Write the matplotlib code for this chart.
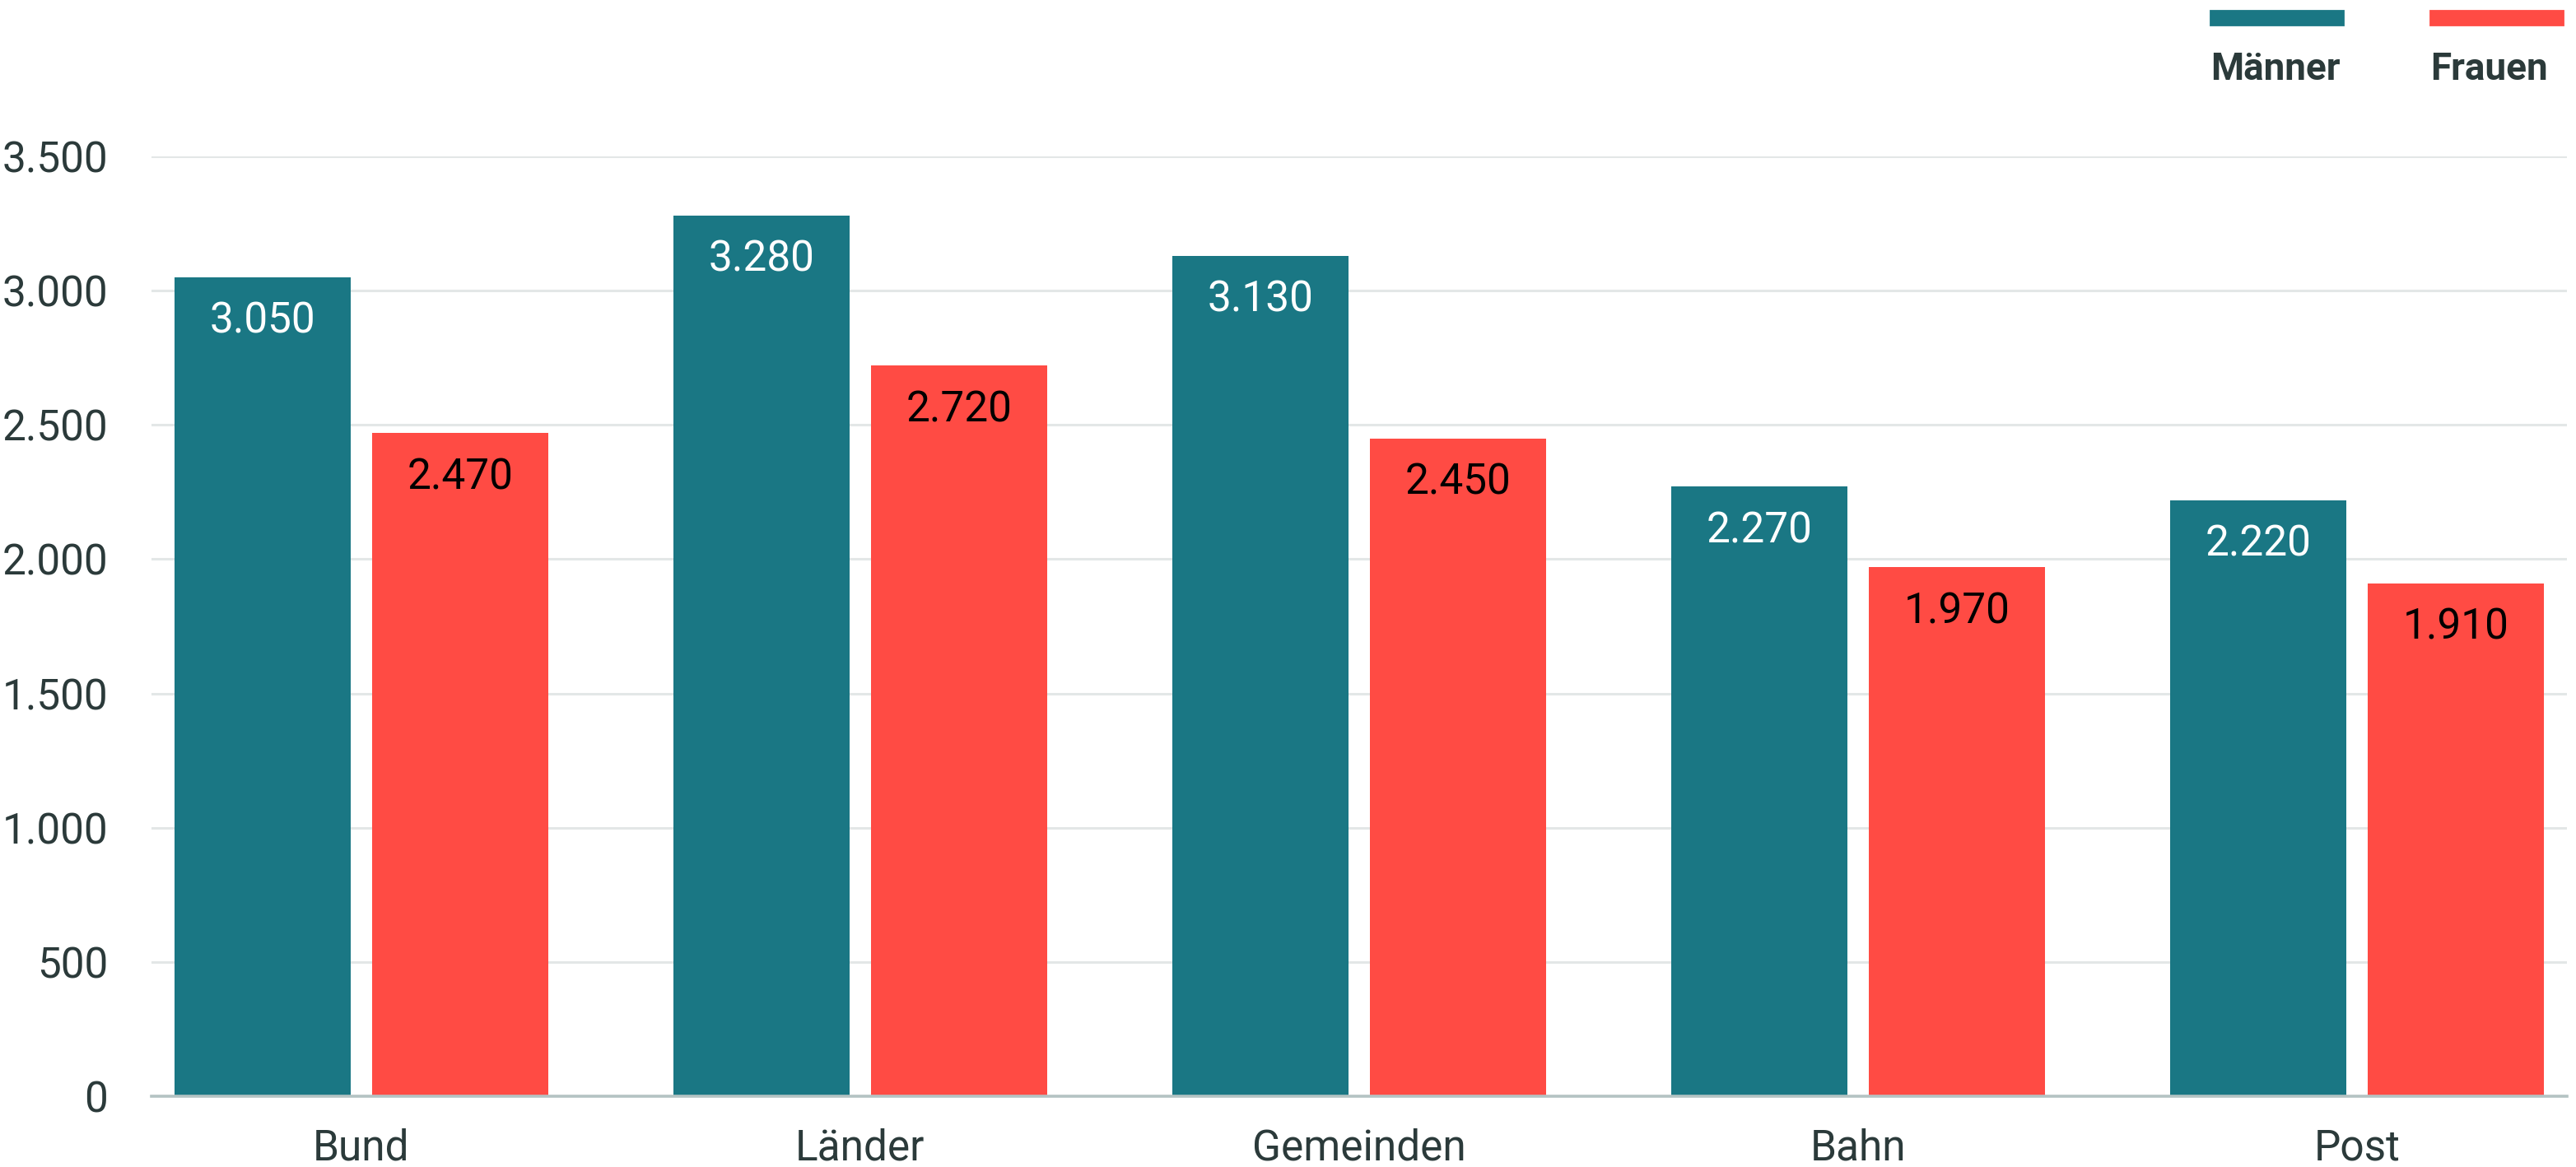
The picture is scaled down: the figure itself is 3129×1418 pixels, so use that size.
import numpy as np
import matplotlib
matplotlib.use("Agg")
from matplotlib import pyplot as plt
from matplotlib.patches import Rectangle

categories = ["Bund", "Länder", "Gemeinden", "Bahn", "Post"]
maenner = [3050, 3280, 3130, 2270, 2220]
frauen = [2470, 2720, 2450, 1970, 1910]
yticks = [0, 500, 1000, 1500, 2000, 2500, 3000, 3500]

TEAL = "#1A7784"
RED = "#FF4B44"
TEXT = "#2B3A3A"

plt.rcParams['font.family'] = ['Roboto', 'DejaVu Sans']


def fmt(v):
    return f"{v:,}".replace(",", ".")


def main():
    fig = plt.figure(figsize=(3129 / 200, 1418 / 200), dpi=200)
    ax = fig.add_axes([0.0588, 0.0607, 0.9377, 0.8053])

    x = np.arange(len(categories))
    w = 0.353
    off = 0.198
    b1 = ax.bar(x - off, maenner, w, color=TEAL, zorder=3)
    b2 = ax.bar(x + off, frauen, w, color=RED, zorder=3)

    # value labels inside the bars, near the top
    for bars, vals, col in [(b1, maenner, "white"), (b2, frauen, "black")]:
        for r, v in zip(bars, vals):
            ax.annotate(fmt(v), (r.get_x() + r.get_width() / 2, v),
                        xytext=(0, -19.5), textcoords="offset points",
                        ha="center", va="center", fontsize=18.5, color=col,
                        zorder=4)

    ax.set_xlim(-0.42, 4.42)
    ax.set_ylim(0, 3500)
    ax.set_yticks(yticks)
    ax.set_yticklabels([fmt(v) for v in yticks])
    ax.set_xticks(x)
    ax.set_xticklabels(categories)
    ax.tick_params(axis="y", length=0, pad=19, labelsize=18.5, labelcolor=TEXT)
    ax.tick_params(axis="x", length=0, pad=14, labelsize=18.5, labelcolor=TEXT)

    ax.grid(axis="y", color="#E3E7E7", linewidth=1.1, zorder=0)
    ax.set_axisbelow(True)
    for s in ["top", "right", "left"]:
        ax.spines[s].set_visible(False)
    ax.spines["bottom"].set_color("#B4C3C3")
    ax.spines["bottom"].set_linewidth(1.3)
    ax.spines["bottom"].set_zorder(5)

    # legend: colour bar above bold label
    W, H = 3129, 1418
    for x0, col, lab in [(2685, TEAL, "Männer"), (2952, RED, "Frauen")]:
        fig.patches.append(Rectangle((x0 / W, 1 - 30 / H), 161 / W, 17 / H,
                                     transform=fig.transFigure, color=col))
        fig.text(x0 / W, 1 - 97 / H, lab, fontsize=16.5, fontweight="bold",
                 color=TEXT, ha="left", va="baseline")

    fig.savefig("out.png", dpi=200, facecolor="white")


if __name__ == "__main__":
    main()
